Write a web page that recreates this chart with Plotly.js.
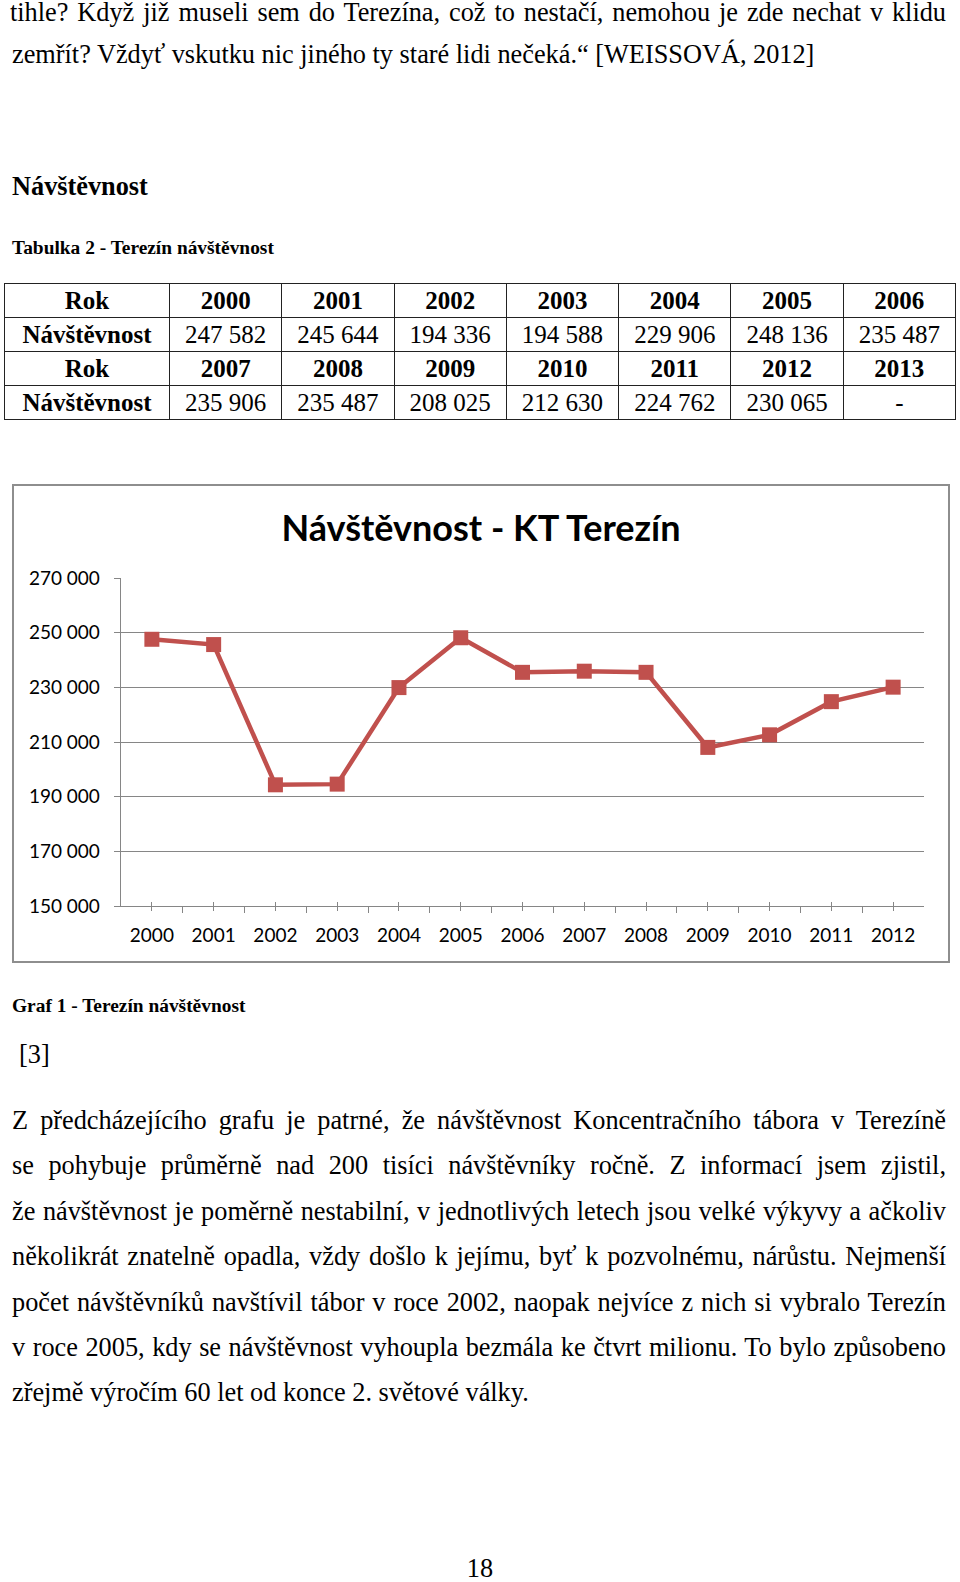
<!DOCTYPE html>
<html><head><meta charset="utf-8">
<script src="https://cdn.plot.ly/plotly-3.0.1.min.js"></script>
<style>
html,body{margin:0;padding:0;background:#fff;}
body{width:960px;height:1582px;position:relative;overflow:hidden;font-family:"Liberation Serif","Times New Roman",serif;color:#000;}
.ln{position:absolute;white-space:nowrap;transform-origin:0 0;}
table{position:absolute;left:4px;top:283px;width:952px;border-collapse:collapse;table-layout:fixed;font-family:"Liberation Serif",serif;}
td{border:1.5px solid #222;text-align:center;padding:0;height:33px;font-size:25px;line-height:25px;white-space:nowrap;overflow:visible;}
td.b{font-weight:bold;}
td span{display:inline-block;}
#frame{position:absolute;left:12px;top:484px;width:934px;height:475px;border:2px solid #8e8e8e;}
#chart{position:absolute;left:0;top:0;width:934px;height:475px;}
</style></head>
<body>
<table id="tbl"><colgroup><col style="width:165px"><col><col><col><col><col><col><col></colgroup><tbody></tbody></table>
<div id="frame"><div id="chart"></div></div>
<script>
// ---- data ----
const years = [2000, 2001, 2002, 2003, 2004, 2005, 2006, 2007, 2008, 2009, 2010, 2011, 2012, 2013];
const visitors = [247582, 245644, 194336, 194588, 229906, 248136, 235487, 235906, 235487, 208025, 212630, 224762, 230065, null];
const chartYears = [2000, 2001, 2002, 2003, 2004, 2005, 2006, 2007, 2008, 2009, 2010, 2011, 2012];
const chartVisitors = [247582, 245644, 194336, 194588, 229906, 248136, 235487, 235906, 235487, 208025, 212630, 224762, 230065];
const chartTitle = 'Návštěvnost - KT Terezín';
const rowLabelYear = 'Rok';
const rowLabelVisits = 'Návštěvnost';

// ---- document text ----
function line(text, o){
  const d = document.createElement('div');
  d.className = 'ln';
  d.textContent = text;
  d.style.fontSize = o.size + 'px';
  d.style.lineHeight = o.size + 'px';
  if (o.bold) d.style.fontWeight = 'bold';
  d.style.left = o.x + 'px';
  d.style.top = Math.max(0, o.yc - 0.57 * o.size) + 'px';
  document.body.appendChild(d);
  let sx = o.sx || 1;
  const w = d.getBoundingClientRect().width;
  if (o.justify) {
    const spaces = (text.match(/ /g) || []).length;
    let extra = o.justify / sx - w;
    if (extra < 0) { sx = o.justify / w; extra = 0; }
    d.style.wordSpacing = (extra / spaces) + 'px';
  }
  if (o.center !== undefined) d.style.left = (o.center - w * sx / 2) + 'px';
  d.style.transform = 'scaleX(' + sx + ')';
}
const FS = 26.3;
line('tihle? Když již museli sem do Terezína, což to nestačí, nemohou je zde nechat v klidu', {x:10, yc:15, size:FS, justify:936});
line('zemřít? Vždyť vskutku nic jiného ty staré lidi nečeká.“ [WEISSOVÁ, 2012]', {x:12, yc:57, size:FS});
line('Návštěvnost', {x:12, yc:189, size:FS, bold:true});
line('Tabulka 2 - Terezín návštěvnost', {x:12, yc:249, size:19.4, bold:true});
line('Graf 1 - Terezín návštěvnost', {x:12, yc:1007, size:19.4, bold:true});
line('[3]', {x:19, yc:1057, size:FS});
const para = [
  'Z předcházejícího grafu je patrné, že návštěvnost Koncentračního tábora v Terezíně',
  'se pohybuje průměrně nad 200 tisíci návštěvníky ročně. Z informací jsem zjistil,',
  'že návštěvnost je poměrně nestabilní, v jednotlivých letech jsou velké výkyvy a ačkoliv',
  'několikrát znatelně opadla, vždy došlo k jejímu, byť k pozvolnému, nárůstu. Nejmenší',
  'počet návštěvníků navštívil tábor v roce 2002, naopak nejvíce z nich si vybralo Terezín',
  'v roce 2005, kdy se návštěvnost vyhoupla bezmála ke čtvrt milionu. To bylo způsobeno',
  'zřejmě výročím 60 let od konce 2. světové války.'
];
para.forEach((t, i) => {
  const o = {x:12, yc:1123 + i * 45.4, size:FS};
  if (i < para.length - 1) o.justify = 934;
  line(t, o);
});
line('18', {x:0, yc:1571, size:FS, center:480});

// ---- table ----
function fmt(n){ return n === null ? '-' : String(n).replace(/\B(?=(\d{3})+(?!\d))/g, ' '); }
const tb = document.querySelector('#tbl tbody');
function addRow(label, cells, bold){
  const tr = document.createElement('tr');
  const th = document.createElement('td'); th.className = 'b';
  th.innerHTML = '<span>' + label + '</span>'; tr.appendChild(th);
  cells.forEach(c => { const td = document.createElement('td'); if (bold) td.className = 'b';
    td.innerHTML = '<span>' + c + '</span>'; tr.appendChild(td); });
  tb.appendChild(tr);
}
addRow(rowLabelYear, years.slice(0,7).map(String), true);
addRow(rowLabelVisits, visitors.slice(0,7).map(fmt), false);
addRow(rowLabelYear, years.slice(7).map(String), true);
addRow(rowLabelVisits, visitors.slice(7).map(fmt), false);

// ---- chart ----
const red = '#C0504D', gray = '#868686';
const traces = [
  {x:chartYears, y:chartVisitors, type:'scatter', mode:'lines+markers',
   line:{color:red, width:4.5}, marker:{symbol:'square', size:15, color:red},
   hoverinfo:'skip', cliponaxis:false, showlegend:false},
  {x:chartYears, y:chartVisitors, xaxis:'x2', type:'scatter', mode:'markers',
   marker:{opacity:0, size:1}, hoverinfo:'skip', showlegend:false}
];
const layout = {
  width:934, height:475, margin:{l:107, r:24, t:92, b:55},
  paper_bgcolor:'#fff', plot_bgcolor:'#fff', showlegend:false, separators:', ',
  font:{family:'Lato, sans-serif', size:19, color:'#000'},
  title:{text:chartTitle, font:{family:'Lato, sans-serif', size:36, color:'#000', weight:700},
         x:0.5, xref:'container', xanchor:'center', y:1 - 42/475, yref:'container', yanchor:'middle'},
  xaxis:{type:'linear', range:[1999.5, 2012.5], tickmode:'array', tickvals:chartYears,
         ticktext:chartYears.map(String), ticks:'inside', ticklen:4, tickwidth:1, tickcolor:gray,
         showline:true, linecolor:gray, linewidth:1.3, showgrid:false, zeroline:false,
         ticklabelstandoff:12, fixedrange:true,
         minor:{tickmode:'linear', tick0:1999.5, dtick:1, ticks:'outside', ticklen:6, tickwidth:1, tickcolor:gray, showgrid:false}},
  xaxis2:{type:'linear', range:[1999.5, 2012.5], overlaying:'x', anchor:'y', side:'bottom',
          tickmode:'array', tickvals:chartYears, ticks:'outside', ticklen:4, tickwidth:1, tickcolor:gray,
          showticklabels:false, showline:false, showgrid:false, zeroline:false, fixedrange:true},
  yaxis:{range:[150000, 270000], tickmode:'linear', tick0:150000, dtick:20000, tickformat:',d',
         ticks:'outside', ticklen:6, tickwidth:1, tickcolor:gray, showline:true, linecolor:gray, linewidth:1.3,
         showgrid:true, gridcolor:gray, gridwidth:1, zeroline:false, ticklabelstandoff:10, fixedrange:true}
};
Plotly.newPlot('chart', traces, layout, {staticPlot:true, displayModeBar:false});
</script>
</body></html>
